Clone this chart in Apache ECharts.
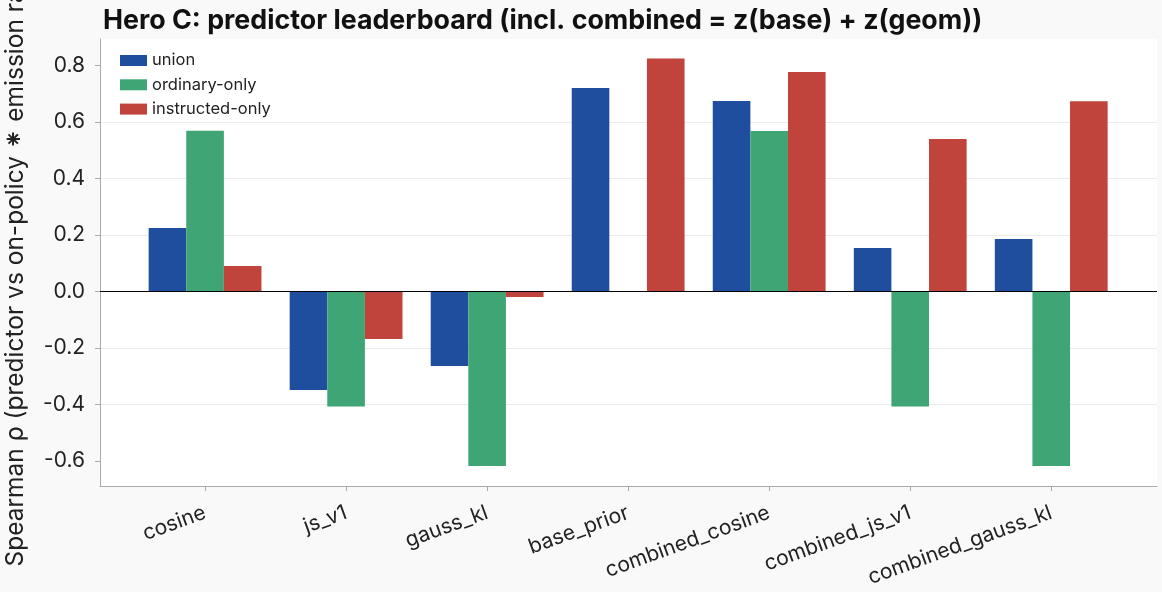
<!DOCTYPE html>
<html>
<head>
<meta charset="utf-8">
<script src="https://cdn.jsdelivr.net/npm/echarts@6/dist/echarts.min.js"></script>
<style>
html,body{margin:0;padding:0;background:#f9f9f9;}
#chart{width:1162px;height:592px;}
</style>
</head>
<body>
<div id="chart"></div>
<script>
const categories = ['cosine','js_v1','gauss_kl','base_prior','combined_cosine','combined_js_v1','combined_gauss_kl'];
const unionVals = [0.224,-0.349,-0.264,0.720,0.674,0.153,0.185];
const ordinaryVals = [0.568,-0.408,-0.618,null,0.567,-0.408,-0.618];
const instructedVals = [0.090,-0.169,-0.020,0.824,0.776,0.539,0.673];
const seriesNames = ['union','ordinary-only','instructed-only'];
const yTickValues = [-0.6,-0.4,-0.2,0.0,0.2,0.4,0.6,0.8];

const colors = ['#1f4e9e','#3fa574','#c0433c'];
const FONT = 'Inter, "DejaVu Sans", "Noto Sans", sans-serif';
const toPts = arr => arr.map((v,i)=>[i,v]);
const idx = categories.map((c,i)=>i);

const chart = echarts.init(document.getElementById('chart'), null, {renderer:'canvas'});
const mkSeries = (name, vals, color, extra) => Object.assign({
  name: name, type:'bar', data: toPts(vals),
  barGap:'0%', barCategoryGap:'20%',
  itemStyle:{color:color}, emphasis:{disabled:true}, animation:false
}, extra||{});

chart.setOption({
  backgroundColor:'#f9f9f9',
  animation:false,
  textStyle:{fontFamily:FONT},
  title:{
    text:'Hero C: predictor leaderboard (incl. combined = z(base) + z(geom))',
    left:98, top:2,
    textStyle:{fontFamily:FONT, fontSize:26.8, fontWeight:'bold', color:'#111'}
  },
  legend:{
    orient:'vertical', left:115, top:47,
    itemWidth:27, itemHeight:11, itemGap:7.3,
    icon:'rect',
    textStyle:{fontFamily:FONT, fontSize:16.5, color:'#222', lineHeight:16},
    data: seriesNames
  },
  grid:{left:100, right:5, top:39, bottom:106, show:true, backgroundColor:'#ffffff', borderWidth:0, outerBoundsMode:'none', containLabel:false},
  xAxis:{
    type:'value', min:-0.745, max:6.75,
    splitLine:{show:false},
    axisLine:{show:true, onZero:false, lineStyle:{color:'#aaaaaa', width:1}},
    axisTick:{show:true, length:5, lineStyle:{color:'#aaaaaa'}, customValues: idx},
    axisLabel:{
      customValues: idx,
      rotate:20, margin:26,
      fontFamily:FONT, fontSize:21, color:'#222',
      formatter: v => categories[Math.round(v)]
    }
  },
  yAxis:{
    type:'value', min:-0.689, max:0.893,
    minInterval:0.2, maxInterval:0.2,
    name:'Spearman ρ (predictor vs on-policy {s|⁕} emission rate)',
    nameLocation:'middle', nameRotate:90, nameGap:72,
    nameTextStyle:{fontFamily:FONT, fontSize:24.5, color:'#222',
      rich:{s:{fontFamily:'"DejaVu Sans"', fontSize:24.5, color:'#222'}}},
    axisLine:{show:true, onZero:false, lineStyle:{color:'#aaaaaa', width:1}},
    axisTick:{show:true, length:5, lineStyle:{color:'#aaaaaa'}, customValues: yTickValues},
    axisLabel:{
      customValues: yTickValues,
      fontFamily:FONT, fontSize:21, color:'#222', margin:15,
      formatter: v => v.toFixed(1)
    },
    splitLine:{show:true, showMinLine:false, showMaxLine:false, lineStyle:{color:'#ebebeb', width:1}}
  },
  series:[
    mkSeries(seriesNames[0], unionVals, colors[0]),
    mkSeries(seriesNames[1], ordinaryVals, colors[1]),
    mkSeries(seriesNames[2], instructedVals, colors[2], {
      markLine:{
        silent:true, symbol:'none', label:{show:false},
        lineStyle:{color:'#000', width:1.2, type:'solid'},
        emphasis:{disabled:true},
        data:[{yAxis:0}]
      }
    })
  ]
});
</script>
</body>
</html>
